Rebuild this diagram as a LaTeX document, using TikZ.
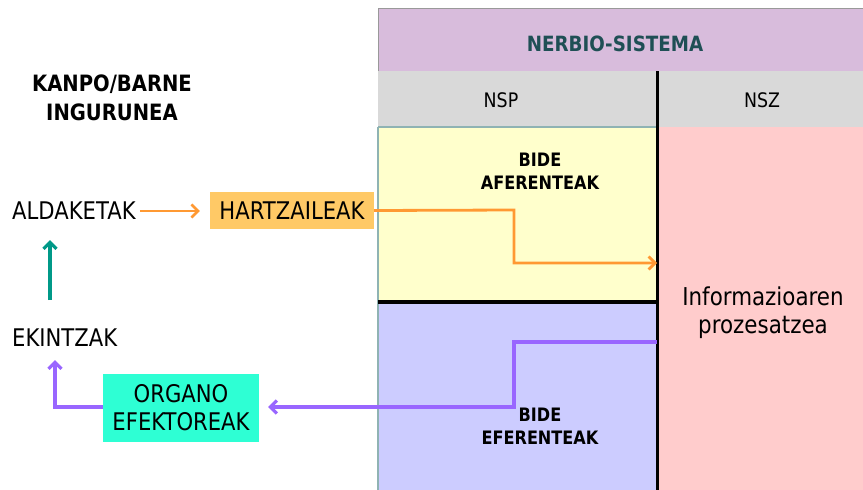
\documentclass[tikz,border=0pt]{standalone}
\usepackage{fontspec}
\setmainfont{DejaVu Sans}[FakeStretch=0.87]
\usetikzlibrary{arrows.meta}
\definecolor{hdrfill}{HTML}{D8BCDC}
\definecolor{hdrtext}{HTML}{1F4F55}
\definecolor{rowfill}{HTML}{D9D9D9}
\definecolor{yelfill}{HTML}{FFFFCC}
\definecolor{bluefill}{HTML}{CCCCFF}
\definecolor{pinkfill}{HTML}{FFCCCC}
\definecolor{hzfill}{HTML}{FFC966}
\definecolor{orgfill}{HTML}{2EFFD4}
\definecolor{orangeln}{HTML}{FF9933}
\definecolor{purpleln}{HTML}{9966FF}
\definecolor{tealln}{HTML}{009988}
\definecolor{edgeln}{HTML}{8FB3B3}
\tikzset{
  big/.style={font=\fontsize{24.3}{28}\selectfont, inner sep=0pt, align=center},
  bigb/.style={font=\fontsize{22.5}{29}\bfseries\selectfont, inner sep=0pt, align=center},
  small/.style={font=\fontsize{18.5}{23}\bfseries\selectfont, inner sep=0pt, align=center},
  tip/.style={-{Straight Barb[length=6.5pt,width=13pt]}},
}
\begin{document}
\begin{tikzpicture}[x=1pt,y=-1pt]
\useasboundingbox (0,0) rectangle (863,490);
% regions
\fill[hdrfill] (378,8) rectangle (863,71);
\draw[gray!80] (378,490) -- (378,8) -- (863,8);
\draw[gray!80] (378,71) -- (863,71);
\fill[rowfill] (378,71) rectangle (863,127);
\draw[gray!80] (378,127) -- (863,127);
\fill[yelfill] (378,127) rectangle (657,302);
\fill[bluefill] (378,302) rectangle (657,490);
\fill[pinkfill] (657,127) rectangle (863,490);
\draw[edgeln, line width=1.5pt] (378,127) -- (378,490) (378,127) -- (657,127);
\draw[black, line width=3pt] (657,71) -- (657,490);
\draw[black, line width=3.5pt] (378,302) -- (657,302);

\node[bigb, text=hdrtext, font=\fontsize{21}{24}\bfseries\selectfont] (ns) at (615,44) {NERBIO-SISTEMA};
\node[big, font=\fontsize{20}{24}\selectfont] (nsp) at (501,100) {NSP};
\node[big, font=\fontsize{20}{24}\selectfont] (nsz) at (762,100) {NSZ};
\node[small] (af) at (540,171) {BIDE\\AFERENTEAK};
\node[small] (ef) at (540,426) {BIDE\\EFERENTEAK};
\coordinate (procW) at (657,300);
\node[big, font=\fontsize{24.6}{28}\selectfont] (proc) at (763,313) {Informazioaren\\prozesatzea};

% left side
\node[bigb] (env) at (112,98) {KANPO/BARNE\\INGURUNEA};
\node[big, anchor=west] (ald) at (12,211) {ALDAKETAK};
\node[big, fill=hzfill, minimum width=164pt, minimum height=37pt] (hz) at (292,210.5) {HARTZAILEAK};
\node[big, anchor=west] (ek) at (12,338) {EKINTZAK};
\node[big, fill=orgfill, minimum width=156pt, minimum height=68pt] (org) at (181,408) {ORGANO\\EFEKTOREAK};

% connectors
\draw[orangeln, line width=2.6pt, tip, shorten <=4pt, shorten >=10pt] (ald.east) -- (hz.west |- ald.east);
\coordinate (a1) at (514,210);
\coordinate (a2) at (514,263);
\draw[orangeln, line width=2.8pt, tip] (hz.east) -- (a1) -- (a2) -- (a2 -| procW);
\coordinate (p1) at (514,342);
\coordinate (p2) at (514,407);
\draw[purpleln, line width=3.2pt, tip, shorten >=9pt] (p1 -| procW) -- (p1) -- (p2) -- (p2 -| org.east);
\coordinate (e1) at (55,407);
\draw[purpleln, line width=3.2pt, tip] (org.west |- e1) -- (e1) -- (55,360);
\coordinate (t1) at (50,300);
\coordinate (t2) at (50,240);
\draw[tealln, line width=3.2pt, tip] (t1) -- (t2);
\end{tikzpicture}
\end{document}
